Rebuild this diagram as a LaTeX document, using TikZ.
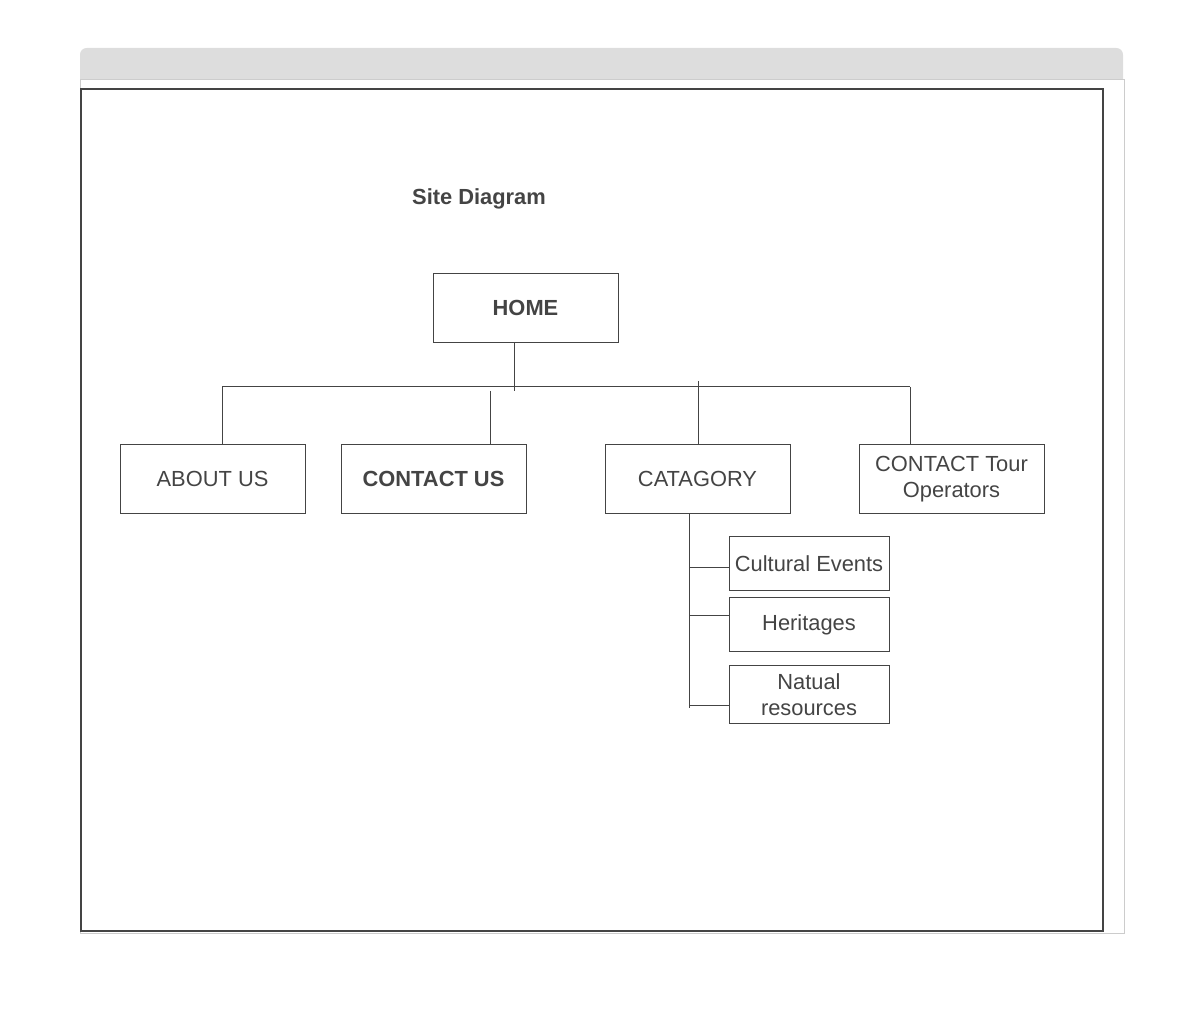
\documentclass[tikz,border=0pt]{standalone}
\usepackage{fontspec}
\setmainfont{Liberation Sans}
\usetikzlibrary{positioning}
\definecolor{ink}{HTML}{444444}
\definecolor{barfill}{HTML}{DDDDDD}
\definecolor{frameline}{HTML}{CCCCCC}
\begin{document}
\begin{tikzpicture}[x=0.75pt, y=-0.75pt,
    page/.style={draw=ink, text=ink, inner sep=1pt, align=center,
              font=\fontsize{16.4}{19.2}\selectfont, line width=0.75pt},
    mainbox/.style={page, minimum width=138.75pt, minimum height=51.75pt},
    subbox/.style={page, minimum width=120pt, minimum height=40.5pt},
    wire/.style={draw=ink, line width=0.75pt}]
                \useasboundingbox (0,0) rectangle (1203,1012);
                \fill[barfill] (80,79) [rounded corners=5] -- (80,48) -- (1123,48) [sharp corners] -- (1123,79) -- cycle;
                \draw[frameline, line width=0.75pt] (80,80) rectangle (1124,933);
                \draw[ink, line width=0.85pt] (81,89) rectangle (1103,931);
                \node[text=ink, font=\fontsize{16.4}{19.2}\selectfont\bfseries] (title) at (479,198.5) {Site Diagram};
                \node[mainbox, font=\fontsize{16.4}{19.2}\selectfont\bfseries] (home) at (525.5,308) {HOME};
                \node[mainbox] (about) at (212.5,479) {ABOUT US};
                \node[mainbox, font=\fontsize{16.4}{19.2}\selectfont\bfseries] (contact) at (433.5,479) {CONTACT US};
                \node[mainbox] (cat) at (697.5,479) {CATAGORY};
                \node[mainbox] (tour) at (951.5,479) {CONTACT Tour\\Operators};
                \node[subbox] (cult) at (809,563.5) {Cultural Events};
                \node[subbox] (herit) at (809,624.5) {Heritages};
                \node[subbox, minimum height=43.5pt] (nat) at (809,694.5) {Natual\\resources};
                \coordinate (hub) at (514,391);
                \coordinate (busL) at (222,387);
                \coordinate (busR) at (910,387);
                \coordinate (drop) at (490,391);
                \coordinate (catTop) at (698,381);
                \coordinate (spine) at (689,708);
                \draw[wire] (home.south -| hub) -- (hub);
                \draw[wire] (busL) -- (busR);
                \draw[wire] (busL) -- (busL |- about.north);
                \draw[wire] (drop) -- (drop |- contact.north);
                \draw[wire] (catTop) -- (catTop |- cat.north);
                \draw[wire] (busR) -- (busR |- tour.north);
                \draw[wire] (spine |- cat.south) -- (spine);
                \foreach \n/\y in {cult/567, herit/615, nat/705}{
                    \draw[wire] (spine |- 0,\y) -- (\n.west |- 0,\y);
                };
            \end{tikzpicture}
\end{document}
